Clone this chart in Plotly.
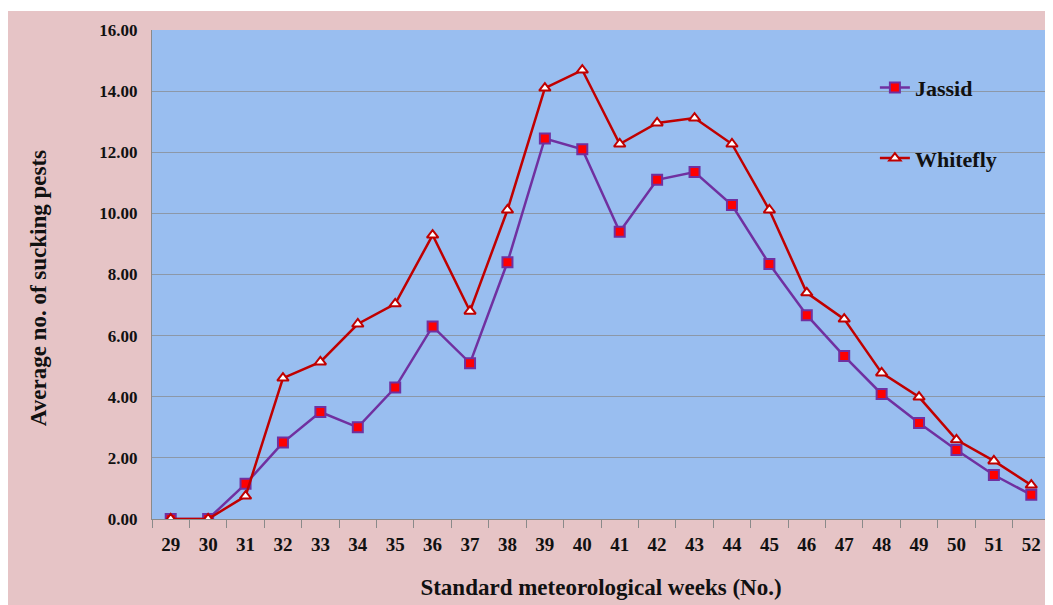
import plotly.graph_objects as go

weeks = [str(w) for w in range(29, 53)]
jassid = [0, 0, 1.15, 2.5, 3.5, 3.0, 4.3, 6.3, 5.1, 8.4, 12.45, 12.1, 9.4, 11.1, 11.35,
          10.27, 8.34, 6.67, 5.33, 4.09, 3.14, 2.26, 1.44, 0.79]
whitefly = [0, 0, 0.75, 4.61, 5.14, 6.38, 7.04, 9.29, 6.8, 10.11, 14.1, 14.69, 12.27, 12.96,
            13.12, 12.27, 10.11, 7.4, 6.54, 4.78, 3.99, 2.59, 1.9, 1.11]
y_ticks = [0, 2, 4, 6, 8, 10, 12, 14, 16]

FONT = "Liberation Serif"
B = lambda s: "<b>" + s + "</b>"

fig = go.Figure()
fig.add_trace(go.Scatter(
    x=weeks, y=jassid, name=B("Jassid"), mode="lines+markers",
    line=dict(color="#7030a0", width=2.5),
    marker=dict(symbol="square", size=10, color="#ff0000",
                line=dict(color="#7030a0", width=2)),
    legendgroup="a",
))
fig.add_trace(go.Scatter(
    x=weeks, y=whitefly, name=B("Whitefly"), mode="lines+markers",
    line=dict(color="#c00000", width=2.5),
    marker=dict(symbol="triangle-up", size=10, color="#ffffff",
                line=dict(color="#c00000", width=2)),
    legendgroup="b",
))

# thin white strip at top of the picture
fig.add_shape(type="rect", xref="paper", yref="paper", x0=-0.2, x1=1.01,
              y0=1 + 19 / 489, y1=1 + 23 / 489, fillcolor="white", line_width=0, layer="below")

# y-axis title (placed slightly below the plot centre, as in the reference)
fig.add_annotation(text=B("Average no. of sucking pests"), textangle=-90,
                   xref="paper", yref="paper", x=(38 - 152) / 898, y=0.472,
                   xanchor="center", yanchor="middle", showarrow=False,
                   font=dict(size=23, family=FONT, color="#111111"))

fig.update_layout(
    width=1045, height=597,
    margin=dict(l=144, r=3, t=22, b=86),
    paper_bgcolor="#e6c4c6",
    plot_bgcolor="#99bef0",
    font=dict(family=FONT, color="#111111"),
    showlegend=True,
    legend=dict(x=0.805, y=0.925, xanchor="left", yanchor="top",
                bgcolor="rgba(0,0,0,0)", font=dict(size=22, family=FONT),
                tracegroupgap=39, traceorder="grouped"),
    xaxis=dict(
        type="category", range=[-0.5, 23.5], tickson="boundaries", ticks="outside", ticklen=8,
        tickcolor="#8a8a8a", showline=True, linecolor="#8a8a8a", linewidth=1,
        tickvals=weeks, ticktext=[B(w) for w in weeks], ticklabelstandoff=8,
        showgrid=False, tickfont=dict(size=19, family=FONT),
        title=dict(text=B("Standard meteorological weeks (No.)"), standoff=25,
                   font=dict(size=23, family=FONT)),
    ),
    yaxis=dict(
        range=[0, 16], tickvals=y_ticks, ticktext=[B(f"{v:.2f}") for v in y_ticks],
        ticks="", ticklabelstandoff=10,
        showgrid=True, gridcolor="#8c98a8", gridwidth=1,
        showline=True, linecolor="#8a8a8a", zeroline=False,
        tickfont=dict(size=17, family=FONT),
    ),
)

fig.write_html("out.html")
